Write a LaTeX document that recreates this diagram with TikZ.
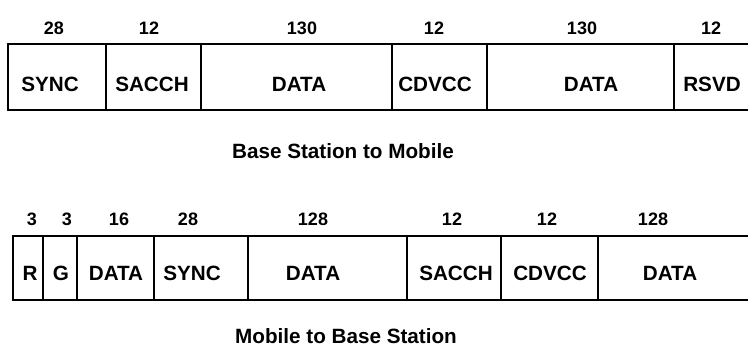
\documentclass[tikz,border=0pt]{standalone}
\usepackage{fontspec}
\setmainfont{Liberation Sans}
\usepackage{tikz}

\begin{document}
\begin{tikzpicture}[x=0.75pt, y=-0.75pt,
  frame/.style={line width=1.6pt, line cap=round},
  field/.style={font=\fontsize{15.5}{17}\selectfont\bfseries, inner sep=1pt},
  bits/.style={font=\fontsize{13.5}{15}\selectfont\bfseries, inner sep=1pt},
  caption/.style={font=\fontsize{15.5}{17}\selectfont\bfseries, inner sep=1pt}]
\useasboundingbox (0,0) rectangle (748,349);

% base station to mobile slot
\draw[frame] (8,44) -- (748,44);
\draw[frame] (8,110) -- (748,110);
\foreach \x in {8,106,201,392,487,674}
  \draw[frame] (\x,44) -- (\x,110);

\foreach \x/\t [count=\i] in {50/SYNC,152/SACCH,299/DATA,435/CDVCC,591/DATA,712/RSVD}
  \node[field] (fwd\i) at (\x,84) {\t};
\foreach \x/\n [count=\i] in {54/28,149/12,302/130,434/12,582/130,711/12}
  \node[bits] (fwdbits\i) at (\x,28) {\n};

\node[caption] (fwdcap) at (343,151) {Base Station to Mobile};

% mobile to base station slot
\draw[frame] (13,236) -- (748,236);
\draw[frame] (13,300) -- (748,300);
\foreach \x in {13,43,77,154,248,407,501,598}
  \draw[frame] (\x,236) -- (\x,300);

\foreach \x/\t [count=\i] in {30/R,61/G,116/DATA,192/SYNC,313/DATA,456/SACCH,550/CDVCC,670/DATA}
  \node[field] (rev\i) at (\x,273) {\t};
\foreach \x/\n [count=\i] in {32/3,67/3,119/16,188/28,313/128,452/12,547/12,653/128}
  \node[bits] (revbits\i) at (\x,219) {\n};

\node[caption] (revcap) at (346,336) {Mobile to Base Station};
\end{tikzpicture}
\end{document}
